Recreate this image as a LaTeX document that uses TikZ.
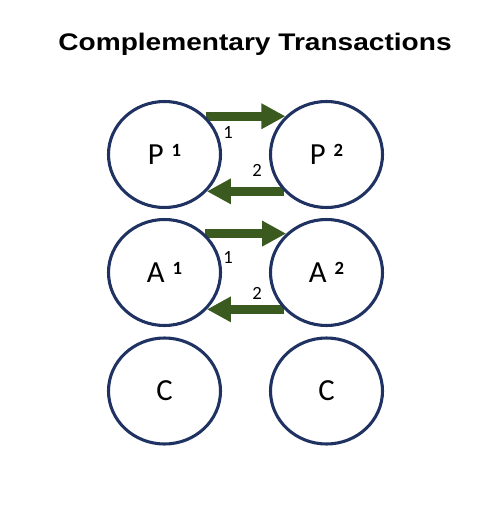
\documentclass[tikz,border=0pt]{standalone}
\usepackage{fontspec}
\setmainfont{Carlito}
\newfontfamily\titlefont{Liberation Sans}
\usetikzlibrary{shapes.geometric,arrows.meta}
\definecolor{navy}{HTML}{1F3262}
\definecolor{olive}{HTML}{3A5A20}
\pgfdeclarelayer{bg}
\pgfsetlayers{bg,main}
\newcommand\supnum[1]{\raisebox{6.5pt}{\fontsize{14}{14}\selectfont\bfseries #1}}
\begin{document}
\begin{tikzpicture}[x=0.75pt,y=-0.75pt,
  circ/.style={ellipse,draw=navy,line width=2.3pt,minimum width=84pt,minimum height=79.5pt,inner sep=0pt,font=\fontsize{23}{23}\selectfont},
  flow/.style={draw=olive,line width=6.5pt,-{Triangle[length=18pt,width=18pt]}},
  num/.style={font=\fontsize{14}{14}\selectfont,inner sep=0pt}]
\useasboundingbox (0,0) rectangle (500,509);
\node[anchor=base,inner sep=0pt,font=\titlefont\bfseries\fontsize{18}{18}\selectfont] (title) at (255,51) {\scalebox{1.17}[1]{Complementary Transactions}};
\node[circ] (P1) at (164.5,154.5) {P\hspace{6pt}\supnum{1}};
\node[circ] (P2) at (326.5,154.5) {P\hspace{6pt}\supnum{2}};
\node[circ] (A1) at (164.5,272.5) {A\hspace{6pt}\supnum{1}};
\node[circ] (A2) at (326.5,272.5) {A\hspace{6pt}\supnum{2}};
\node[circ] (C1) at (164.5,391) {C};
\node[circ] (C2) at (326.5,391) {C};
\begin{pgfonlayer}{bg}
\draw[flow] (P1.43) -- (P2.137);
\draw[flow] (P2.-139) -- (P1.-41);
\draw[flow] (A1.44) -- (A2.136);
\draw[flow] (A2.-139) -- (A1.-41);
\end{pgfonlayer}
\node[num] (l1) at (228,132) {1};
\node[num] (l2) at (257,170) {2};
\node[num] (l3) at (228,257) {1};
\node[num] (l4) at (257,293) {2};
\end{tikzpicture}
\end{document}
